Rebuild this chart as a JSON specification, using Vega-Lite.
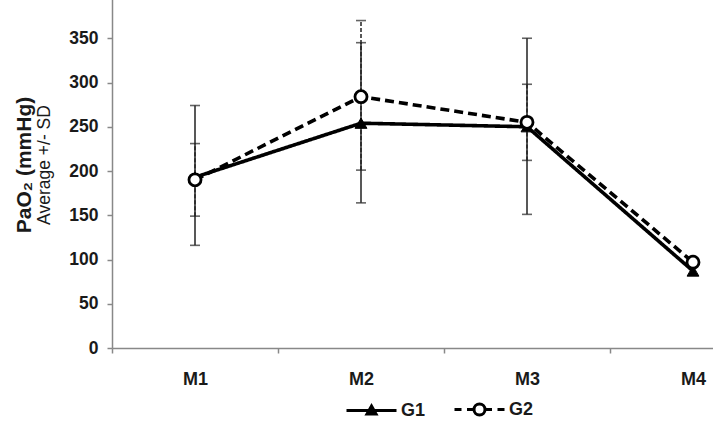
{
  "$schema": "https://vega.github.io/schema/vega-lite/v6.json",
  "autosize": {"type": "none"},
  "width": 601,
  "height": 348,
  "padding": {"left": 112, "top": 0, "right": 0, "bottom": 82},
  "background": "white",
  "title": {
    "text": "PaO₂ (mmHg)",
    "subtitle": "Average +/- SD",
    "orient": "left",
    "anchor": "middle",
    "frame": "group",
    "font": "Liberation Sans",
    "fontSize": 21,
    "fontWeight": "bold",
    "color": "#1a1a1a",
    "subtitleFont": "Liberation Sans",
    "subtitleFontSize": 17.5,
    "subtitleColor": "#1a1a1a",
    "subtitlePadding": 1,
    "offset": 15,
    "dx": 9
  },
  "config": {"view": {"stroke": null}},
  "resolve": {"scale": {"strokeDash": "independent"}},
  "datasets": {
    "means": [
      {"M": "M1", "group": "G1", "value": 193},
      {"M": "M2", "group": "G1", "value": 254},
      {"M": "M3", "group": "G1", "value": 250},
      {"M": "M4", "group": "G1", "value": 87},
      {"M": "M1", "group": "G2", "value": 190},
      {"M": "M2", "group": "G2", "value": 284},
      {"M": "M3", "group": "G2", "value": 255},
      {"M": "M4", "group": "G2", "value": 97}
    ],
    "sd": [
      {"M": "M1", "group": "G1", "lo": 116, "hi": 274},
      {"M": "M2", "group": "G1", "lo": 164, "hi": 345},
      {"M": "M3", "group": "G1", "lo": 151, "hi": 350},
      {"M": "M1", "group": "G2", "lo": 149, "hi": 231},
      {"M": "M2", "group": "G2", "lo": 201, "hi": 370},
      {"M": "M3", "group": "G2", "lo": 212, "hi": 298}
    ]
  },
  "encoding": {
    "x": {
      "field": "M",
      "type": "nominal",
      "scale": {"type": "band", "domain": ["M1", "M2", "M3", "M4"], "range": [0, 664], "paddingInner": 0, "paddingOuter": 0},
      "axis": {
        "title": null,
        "labelAngle": 0,
        "tickBand": "extent",
        "domainColor": "#888888",
        "domainWidth": 1.5,
        "tickColor": "#888888",
        "tickWidth": 1.5,
        "tickSize": 5,
        "grid": false,
        "labelFont": "Liberation Sans",
        "labelFontWeight": "bold",
        "labelFontSize": 18,
        "labelColor": "#1a1a1a",
        "labelPadding": 17
      }
    }
  },
  "layer": [
    {
      "data": {"name": "sd"},
      "mark": {"type": "rule", "color": "#222222", "strokeWidth": 1.5},
      "encoding": {
        "y": {"field": "lo", "type": "quantitative"},
        "y2": {"field": "hi"},
        "strokeDash": {"field": "group", "type": "nominal", "scale": {"domain": ["G1", "G2"], "range": [[1, 0], [4, 2]]}, "legend": null}
      }
    },
    {
      "data": {"name": "sd"},
      "mark": {"type": "tick", "color": "#222222", "size": 10, "thickness": 1.6, "orient": "horizontal"},
      "encoding": {"y": {"field": "lo", "type": "quantitative"}}
    },
    {
      "data": {"name": "sd"},
      "mark": {"type": "tick", "color": "#222222", "size": 10, "thickness": 1.6, "orient": "horizontal"},
      "encoding": {"y": {"field": "hi", "type": "quantitative"}}
    },
    {
      "data": {"name": "means"},
      "mark": {"type": "line", "color": "black", "strokeWidth": 3.6},
      "encoding": {
        "y": {
          "field": "value",
          "type": "quantitative",
          "scale": {"domain": [0, 400], "range": [348, -6], "nice": false, "zero": true},
          "axis": {
            "title": null,
            "values": [0, 50, 100, 150, 200, 250, 300, 350, 400],
            "grid": false,
            "domainColor": "#888888",
            "domainWidth": 1.5,
            "tickColor": "#888888",
            "tickWidth": 1.5,
            "tickSize": 5,
            "labelFont": "Liberation Sans",
            "labelFontWeight": "bold",
            "labelFontSize": 17.5,
            "labelColor": "#1a1a1a",
            "labelPadding": 9
          }
        },
        "strokeDash": {"field": "group", "type": "nominal", "scale": {"domain": ["G1", "G2"], "range": [[1, 0], [9, 5]]}, "legend": null}
      }
    },
    {
      "data": {"name": "means"},
      "transform": [{"filter": "datum.group === 'G1'"}],
      "mark": {"type": "point", "shape": "triangle-up", "filled": true, "fill": "black", "stroke": "black", "strokeWidth": 1, "opacity": 1, "size": 140},
      "encoding": {"y": {"field": "value", "type": "quantitative"}}
    },
    {
      "data": {"name": "means"},
      "transform": [{"filter": "datum.group === 'G2'"}],
      "mark": {"type": "point", "shape": "circle", "filled": false, "fill": "white", "stroke": "black", "strokeWidth": 2.8, "opacity": 1, "size": 145},
      "encoding": {"y": {"field": "value", "type": "quantitative"}}
    },
    {
      "data": {"name": "means"},
      "mark": {"type": "point", "filled": true, "opacity": 0, "size": 2500, "stroke": "black", "strokeWidth": 3},
      "encoding": {
        "y": {"field": "value", "type": "quantitative"},
        "shape": {
          "field": "group",
          "type": "nominal",
          "scale": {
            "domain": ["G1", "G2"],
            "range": [
              "M-1,0H1M0,-0.18L0.18,0.14L-0.18,0.14Z",
              "M-1,0H-0.72M-0.5,0H-0.27M0.27,0H0.5M0.72,0H1M-0.22,0A0.22,0.22 0 1,0 0.22,0A0.22,0.22 0 1,0 -0.22,0"
            ]
          },
          "legend": {
            "orient": "none",
            "legendX": 233,
            "legendY": 383,
            "direction": "horizontal",
            "title": null,
            "symbolSize": 2500,
            "symbolOpacity": 1,
            "symbolStrokeColor": "black",
            "symbolStrokeWidth": 3,
            "labelFont": "Liberation Sans",
            "labelFontWeight": "bold",
            "labelFontSize": 18,
            "labelColor": "#1a1a1a",
            "labelOpacity": 1,
            "labelOffset": 3,
            "columnPadding": 22
          }
        },
        "fill": {
          "field": "group",
          "type": "nominal",
          "scale": {"domain": ["G1", "G2"], "range": ["black", "white"]}
        },
        "stroke": {
          "field": "group",
          "type": "nominal",
          "scale": {"domain": ["G1", "G2"], "range": ["black", "black"]}
        }
      }
    }
  ]
}
